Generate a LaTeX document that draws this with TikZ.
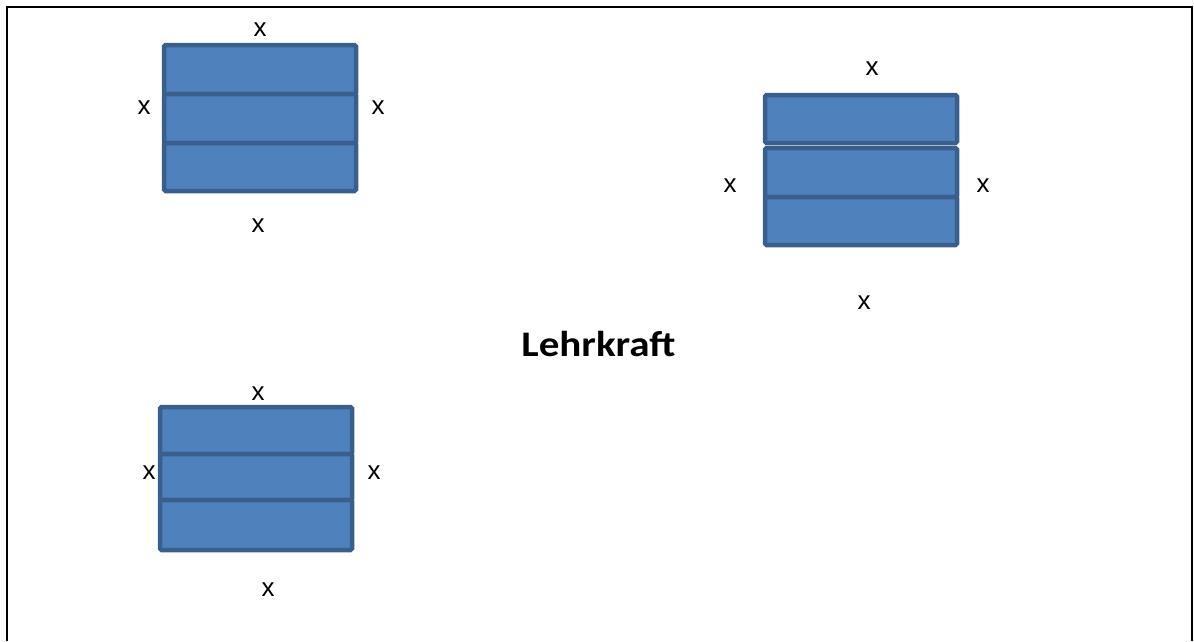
\documentclass[tikz,border=0pt]{standalone}
\usepackage{fontspec}
\setmainfont{Carlito}
\newfontfamily\xfont{Liberation Sans}
\definecolor{cellfill}{HTML}{4F81BD}
\definecolor{celldraw}{HTML}{3A5F8C}
\begin{document}
\begin{tikzpicture}[x=1pt,y=-1pt,
  cell/.style={draw=celldraw,fill=cellfill,line width=4.5pt,rounded corners=1.5pt,
    minimum width=192pt,inner sep=0pt,outer sep=0pt},
  lbl/.style={font=\xfont\fontsize{26}{30}\selectfont,inner sep=0pt},
  title/.style={font=\fontsize{36}{42}\selectfont\bfseries,inner sep=0pt,anchor=base}]
\useasboundingbox (0,0) rectangle (1194,641);
\draw[line width=2pt] (7,641) -- (7,7) -- (1192,7) -- (1192,641);
% box 1
\node[cell,minimum height=49pt] (a1) at (260,69.5) {};
\node[cell,minimum height=49pt] (a2) at (260,118.5) {};
\node[cell,minimum height=48pt] (a3) at (260,167) {};
\node[lbl] (at) at (260,30) {x};
\node[lbl] (al) at (144,108) {x};
\node[lbl] (ar) at (378,108) {x};
\node[lbl] (ab) at (258,226) {x};
% box 2
\node[cell,minimum height=48pt] (b1) at (861,119) {};
\node[cell,minimum height=49pt] (b2) at (861,172.5) {};
\node[cell,minimum height=48pt] (b3) at (861,221) {};
\node[lbl] (bt) at (872,69) {x};
\node[lbl] (bl) at (730,186) {x};
\node[lbl] (br) at (983,186) {x};
\node[lbl] (bb) at (864,303) {x};
% box 3
\node[cell,minimum height=47pt] (c1) at (256,430.5) {};
\node[cell,minimum height=46pt] (c2) at (256,477) {};
\node[cell,minimum height=50pt] (c3) at (256,525) {};
\node[lbl] (ct) at (258,394) {x};
\node[lbl] (cl) at (149,473) {x};
\node[lbl] (cr) at (374,473) {x};
\node[lbl] (cb) at (268,590) {x};
% title
\node[title] (lk) at (598.5,356.5) {\scalebox{1.14}[1]{Lehrkraft}};
\end{tikzpicture}
\end{document}
